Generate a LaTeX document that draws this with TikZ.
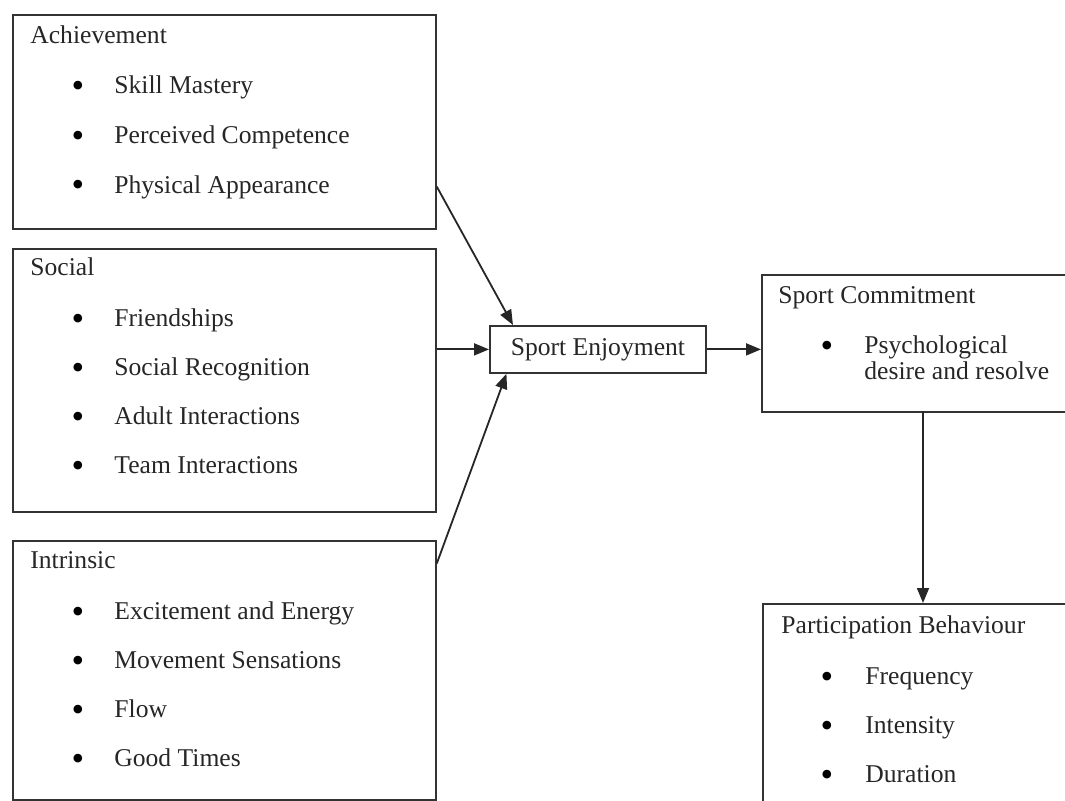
\documentclass[tikz,border=0pt]{standalone}
\usepackage{fontspec}
\setmainfont{Liberation Serif}
\usepackage{tikz}
\usetikzlibrary{calc,arrows.meta}

\begin{document}
\begin{tikzpicture}[x=0.5pt,y=-0.5pt,
	every node/.style={font=\fontsize{12.8pt}{13pt}\selectfont,text=black!85},
	box/.style={shape=rectangle,draw=black!80,line width=0.9pt,inner sep=0pt,anchor=north west},
	title/.style={anchor=base west,inner sep=0pt},
	dot/.style={anchor=base,inner sep=0pt,font=\fontsize{18pt}{18pt}\selectfont,text=black},
	item/.style={anchor=base west,inner sep=0pt},
	arr/.style={draw=black!85,line width=0.9pt,-{Triangle[length=7.5pt,width=6pt]}}]
	
	\clip (0,0) rectangle (1065,801);
	
	\node[box,minimum width=211.5pt,minimum height=107pt]   (ach)  at (12, 14)   {};
	\node[box,minimum width=211.5pt,minimum height=131.5pt] (soc)  at (12, 248)  {};
	\node[box,minimum width=211.5pt,minimum height=129.5pt] (intr) at (12, 540)  {};
	\node[box,minimum width=108pt,minimum height=23.5pt]    (se)   at (489, 325) {Sport Enjoyment};
	\node[box,minimum width=169.5pt,minimum height=68.5pt]  (sc)   at (761, 274) {};
	\node[box,minimum width=169.5pt,minimum height=113.5pt] (pb)   at (762, 603) {};
	
	\node[title] (achT) at (30, 44)  {Achievement};
	\node[dot]   (achD1) at (78, 98)  {•};
	\node[item]  (achI1) at (114, 94) {Skill Mastery};
	\node[dot]   (achD2) at (78, 148) {•};
	\node[item]  (achI2) at (114, 144) {Perceived Competence};
	\node[dot]   (achD3) at (78, 197) {•};
	\node[item]  (achI3) at (114, 194) {Physical Appearance};
	
	\node[title] (socT) at (30, 276)  {Social};
	\node[dot]   (socD1) at (78, 331)  {•};
	\node[item]  (socI1) at (114, 327) {Friendships};
	\node[dot]   (socD2) at (78, 380)  {•};
	\node[item]  (socI2) at (114, 376) {Social Recognition};
	\node[dot]   (socD3) at (78, 429)  {•};
	\node[item]  (socI3) at (114, 425) {Adult Interactions};
	\node[dot]   (socD4) at (78, 478)  {•};
	\node[item]  (socI4) at (114, 474) {Team Interactions};
	
	\node[title] (intrT) at (30, 568)  {Intrinsic};
	\node[dot]   (intrD1) at (78, 623)  {•};
	\node[item]  (intrI1) at (114, 619) {Excitement and Energy};
	\node[dot]   (intrD2) at (78, 672)  {•};
	\node[item]  (intrI2) at (114, 668) {Movement Sensations};
	\node[dot]   (intrD3) at (78, 721)  {•};
	\node[item]  (intrI3) at (114, 717) {Flow};
	\node[dot]   (intrD4) at (78, 770)  {•};
	\node[item]  (intrI4) at (114, 766) {Good Times};
	
	\node[title] (scT) at (778, 304)  {Sport Commitment};
	\node[dot]   (scD1) at (827, 358)  {•};
	\node[item]  (scI1) at (864, 354) {Psychological};
	\node[item]  (scI2) at (864, 380) {desire and resolve};
	
	\node[title] (pbT) at (781, 633)  {Participation Behaviour};
	\node[dot]   (pbD1) at (827, 688)  {•};
	\node[item]  (pbI1) at (865, 684) {Frequency};
	\node[dot]   (pbD2) at (827, 737)  {•};
	\node[item]  (pbI2) at (865, 733) {Intensity};
	\node[dot]   (pbD3) at (827, 786)  {•};
	\node[item]  (pbI3) at (865, 782) {Duration};
	
	\coordinate (scOut) at (923, 411);
	
	\path ($(ach.north east)!0.8!(ach.south east)$) edge[arr] ($(se.north west)!0.11!(se.north east)$);
	\path (soc.east |- se.west) edge[arr] (se.west);
	\path ($(intr.north east)!0.09!(intr.south east)$) edge[arr] ($(se.south west)!0.08!(se.south east)$);
	\path (se.east) edge[arr] (se.east -| sc.west);
	\path (scOut) edge[arr] (scOut |- pb.north);
	
\end{tikzpicture}
\end{document}
